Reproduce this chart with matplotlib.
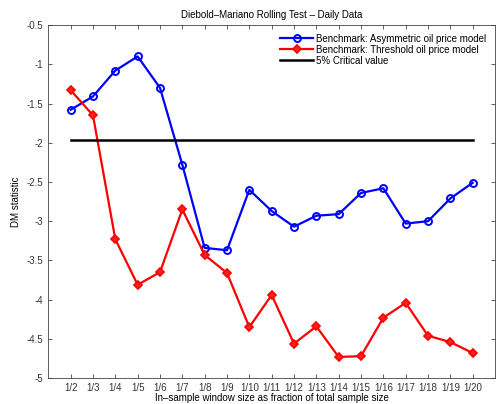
import numpy as np
import matplotlib
matplotlib.use('Agg')
import matplotlib.pyplot as plt

# window sizes (fraction of total sample)
labels = ['1/%d' % k for k in range(2, 21)]
asym_dm = [-1.58, -1.41, -1.08, -0.90, -1.30, -2.28, -3.34, -3.37, -2.60, -2.87,
           -3.07, -2.93, -2.91, -2.64, -2.58, -3.03, -3.00, -2.71, -2.51]
thresh_dm = [-1.33, -1.65, -3.23, -3.81, -3.65, -2.85, -3.43, -3.66, -4.35, -3.94,
             -4.56, -4.34, -4.73, -4.72, -4.23, -4.04, -4.46, -4.54, -4.68]
crit_val = -1.96

plt.rcParams['font.family'] = ['Liberation Sans', 'DejaVu Sans']
plt.rcParams['font.size'] = 7
plt.rcParams['axes.unicode_minus'] = False

x = np.arange(1, len(labels) + 1)

fig = plt.figure(figsize=(4.98, 4.04), dpi=100)
ax = fig.add_axes([0.097, 0.064, 0.897, 0.874])

ax.plot(x, asym_dm, '-o', color='#0000ff', lw=1.6, ms=5, mfc='none', mew=1.4,
        label='Benchmark: Asymmetric oil price model')
ax.plot(x, thresh_dm, '-D', color='#ff0000', lw=1.6, ms=4, mfc='#ff2020', mew=1.2,
        label='Benchmark: Threshold oil price model')
ax.plot([x[0], x[-1]], [crit_val, crit_val], '-', color='black', lw=1.8,
        label='5% Critical value')

ax.set_xlim(0, 20)
ax.set_ylim(-5, -0.5)
ax.set_xticks(x)
ax.set_xticklabels(labels)
ax.set_yticks(np.arange(-5, -0.49, 0.5))
ax.set_yticklabels(['%g' % v for v in np.arange(-5, -0.49, 0.5)])
ax.tick_params(direction='in', top=True, right=True, length=3, width=0.6,
               color='#444444', labelcolor='#333333')
for s in ax.spines.values():
    s.set_linewidth(0.6)
    s.set_color('#444444')

ax.set_title('Diebold\u2013Mariano Rolling Test \u2013 Daily Data', fontsize=7, pad=5)
ax.set_xlabel('In\u2013sample window size as fraction of total sample size', labelpad=0)
ax.set_ylabel('DM statistic', labelpad=4)

ax.legend(loc='upper right', frameon=False, fontsize=7, handlelength=3.4,
          handletextpad=0.3, labelspacing=0.1, borderaxespad=0.5)

fig.savefig('out.png', dpi=100)
